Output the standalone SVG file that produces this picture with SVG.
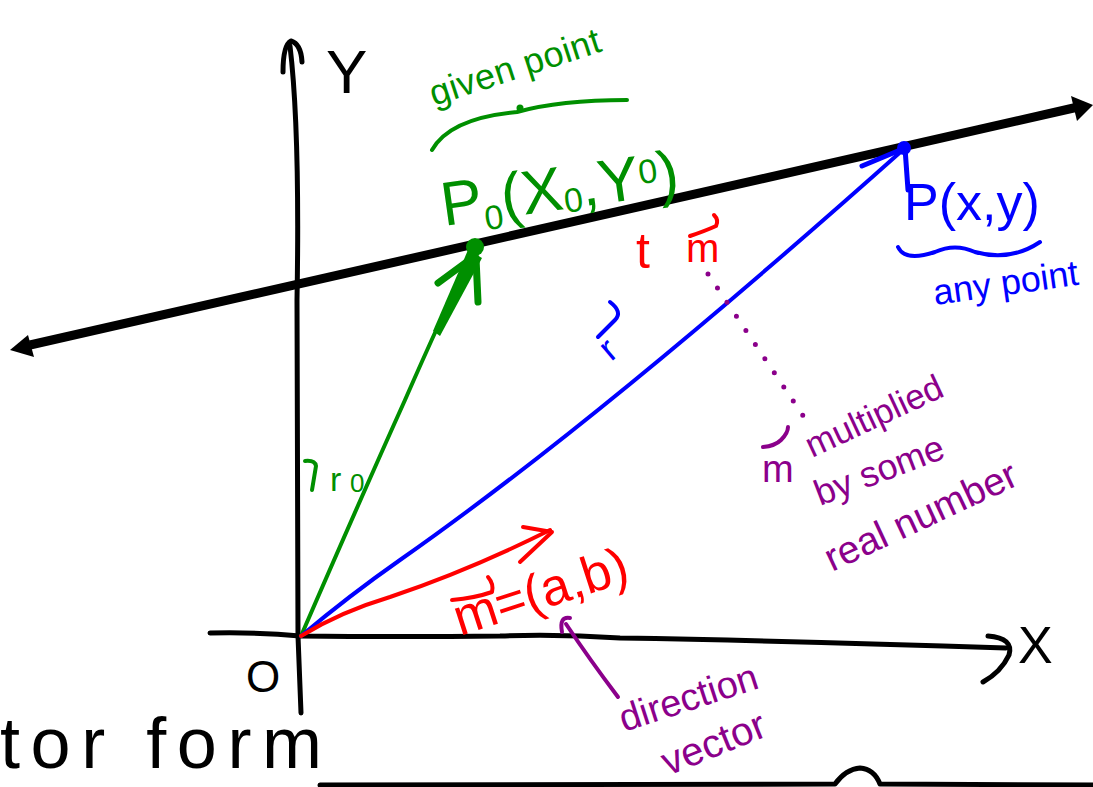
<svg xmlns="http://www.w3.org/2000/svg" width="1093" height="787" viewBox="0 0 1093 787">
<style>
text{font-family:"Liberation Sans","DejaVu Sans",sans-serif}
.s{fill:none;stroke-linecap:round;stroke-linejoin:round}
.k{stroke:#000}
.g{stroke:#008f00}
.b{stroke:#0000ff}
.r{stroke:#ff0000}
.p{stroke:#8b008b}
.tk{fill:#000}
.tg{fill:#008f00}
.tb{fill:#0000ff}
.tr{fill:#ff0000}
.tp{fill:#8b008b}
</style>
<rect width="1093" height="787" fill="#fff"/>
<g id="connectors">
  <line x1="30" y1="345" x2="1078" y2="107" stroke="#000" stroke-width="9"/>
  <polygon points="10,350 28,335 34,357" fill="#000"/>
  <polygon points="1093,105 1071,96 1077,121" fill="#000"/>
  <path class="s k" stroke-width="5" d="M290,46 Q300,130 297,300 L298,636 L301,713"/>
  <path class="s k" stroke-width="5" d="M283,72 Q283,45 291,41 Q301,44 302,62"/>
  <path class="s k" stroke-width="5" d="M210,633 Q260,632 300,636 Q400,637 500,636 Q560,634 620,638 Q800,641 1006,648"/>
  <path class="s k" stroke-width="5" d="M988,636 Q1014,638 1009,655 Q1001,672 983,682"/>
  <path class="s k" stroke-width="5" d="M320,785 L835,784 Q846,769 860,768 Q874,769 880,784 L1093,785"/>
  <path class="s g" stroke-width="4" d="M301,636 Q360,500 405,400 Q440,320 470,258"/>
  <polygon points="468,250 482,258 440,336 433,331" fill="#008f00"/>
  <path class="s g" stroke-width="7" d="M472,258 L438,283 M476,258 L478,302"/>
  <circle cx="475" cy="247" r="9" fill="#008f00"/>
  <path class="s b" stroke-width="4" d="M301,636 Q350,595 400,560 Q600,420 905,148"/>
  <path class="s b" stroke-width="5" d="M905,148 L862,166 M905,148 L908,190"/>
  <circle cx="904" cy="148" r="7" fill="#0000ff"/>
  <path class="s r" stroke-width="4" d="M301,636 Q340,612 390,597 Q470,570 550,530"/>
  <path class="s r" stroke-width="4" d="M523,527 L552,532 L520,562"/>
  <line x1="708" y1="274" x2="806" y2="420" class="s p" stroke-width="5" stroke-dasharray="0 17"/>
  <path class="s p" stroke-width="4" d="M618,697 Q590,660 566,624"/>
  <path class="s p" stroke-width="4" d="M562,632 Q559,616 570,618"/>
</g>
<g id="axis-labels">
  <text x="326" y="93" font-size="62" class="tk">Y</text>
  <text x="1018" y="663" font-size="52" class="tk">X</text>
  <text x="246" y="692" font-size="44" class="tk">O</text>
  <text x="0" y="768" font-size="72" textLength="322" class="tk">tor form</text>
</g>
<g id="given-point">
  <text x="434" y="106" font-size="36" textLength="178" class="tg" transform="rotate(-18 434 106)">given point</text>
  <path class="s g" stroke-width="4" d="M432,150 Q450,118 517,112 Q560,100 627,100"/>
  <circle cx="520" cy="108" r="3.5" fill="#008f00"/>
  <text x="444" y="226" font-size="62" class="tg" transform="rotate(-8 444 226)">P<tspan font-size="34" dy="10">0</tspan><tspan dy="-10">(X</tspan><tspan font-size="34" dy="4">0</tspan><tspan dy="-4">,Y</tspan><tspan font-size="34" dy="-14">0</tspan><tspan dy="14">)</tspan></text>
</g>
<g id="any-point">
  <text x="904" y="220" font-size="52" class="tb">P(x,y)</text>
  <path class="s b" stroke-width="4" d="M898,247 Q905,262 935,252 Q955,243 975,252 Q1010,262 1040,242"/>
  <text x="935" y="305" font-size="36" class="tb" transform="rotate(-8 935 305)">any point</text>
</g>
<g id="label-r0">
  <path class="s g" stroke-width="4" d="M305,461 Q315,460 316,466 L312,490"/>
  <text x="330" y="491" font-size="34" class="tg">r</text>
  <text x="350" y="492" font-size="26" class="tg">0</text>
</g>
<g id="label-r">
  <path class="s b" stroke-width="4" d="M610,302 Q623,312 615,320 L598,337"/>
  <text x="611" y="362" font-size="36" class="tb" transform="rotate(-40 611 362)">r</text>
</g>
<g id="label-tm">
  <text x="636" y="268" font-size="50" class="tr">t</text>
  <text x="686" y="262" font-size="40" class="tr">m</text>
  <path class="s r" stroke-width="4" d="M690,236 Q705,231 716,226 Q719,220 714,215"/>
</g>
<g id="label-m">
  <text x="460" y="636" font-size="52" class="tr" transform="rotate(-18 460 636)">m=(a,b)</text>
  <path class="s r" stroke-width="4" d="M452,600 Q475,598 492,592 Q494,584 488,577"/>
</g>
<g id="label-direction">
  <text x="624" y="732" font-size="38" class="tp" transform="rotate(-18 624 732)">direction</text>
  <text x="668" y="776" font-size="40" class="tp" transform="rotate(-22 668 776)">vector</text>
</g>
<g id="label-multiplied">
  <path class="s p" stroke-width="4" d="M763,447 Q775,446 781,440 Q788,433 788,427"/>
  <text x="762" y="482" font-size="38" class="tp">m</text>
  <text x="812" y="458" font-size="35" class="tp" transform="rotate(-25 812 458)">multiplied</text>
  <text x="820" y="506" font-size="36" class="tp" transform="rotate(-21 820 506)">by some</text>
  <text x="832" y="572" font-size="39" class="tp" transform="rotate(-25 832 572)">real number</text>
</g>
</svg>
